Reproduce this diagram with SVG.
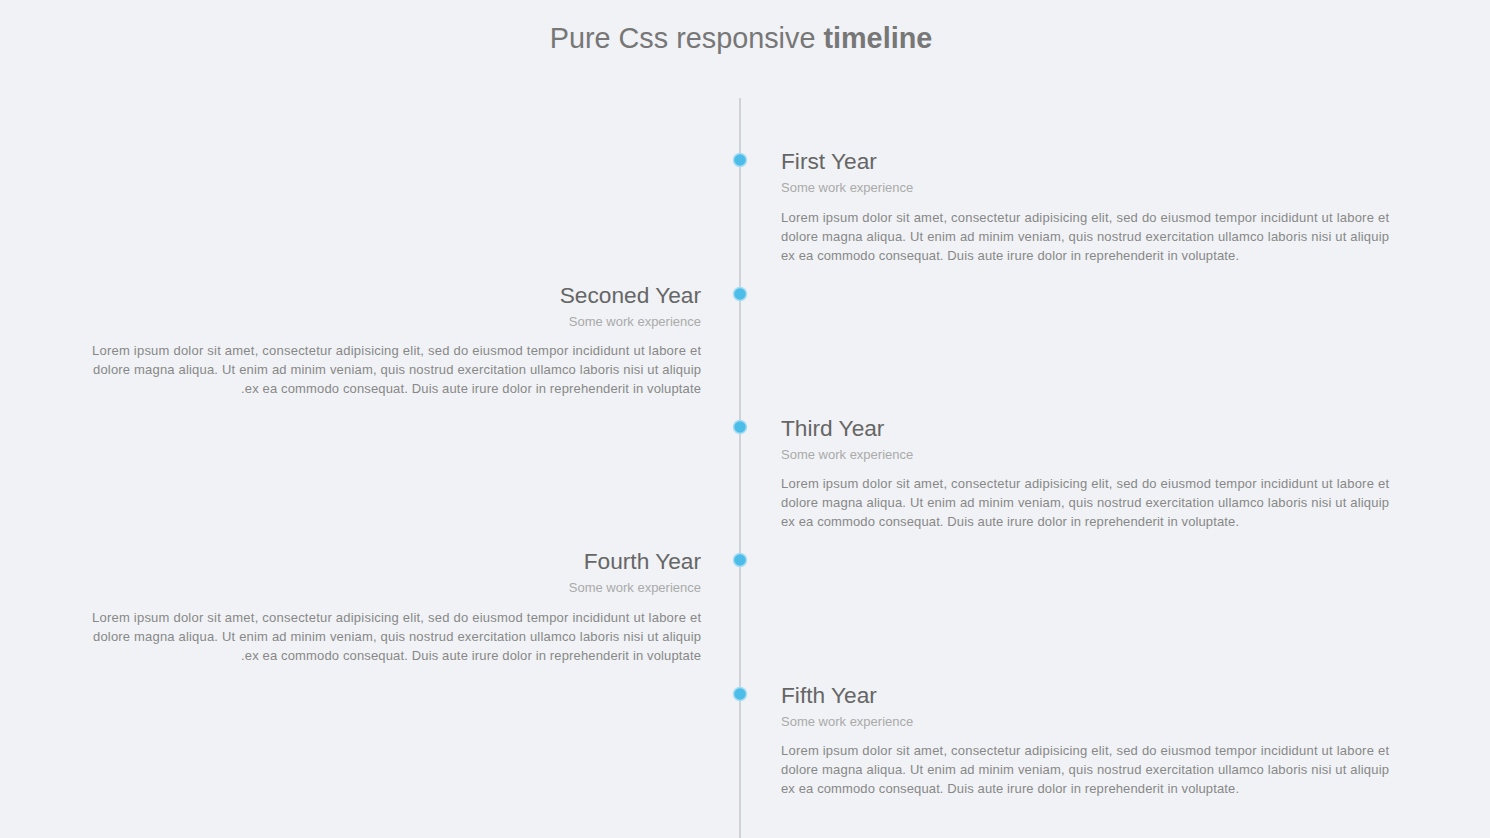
<svg xmlns="http://www.w3.org/2000/svg" width="1490" height="838" viewBox="0 0 1490 838">
<style>
text{font-family:"Liberation Sans",Arial,sans-serif}
.title{font-size:28.8px;fill:#777}
.h{font-size:22.7px;fill:#666}
.s{font-size:13px;fill:#aaa}
.b{font-size:13px;fill:#888}
.r{text-anchor:end}
.dot{fill:#4bbde8;stroke:#a9dcf2;stroke-width:1.5}
</style>
<rect width="1490" height="838" fill="#f0f2f5"/>
<text class="title" x="741" y="48" text-anchor="middle">Pure Css responsive <tspan font-weight="bold">timeline</tspan></text>
<g id="connectors">
<line x1="740" y1="98" x2="740" y2="838" stroke="#cfd2d6" stroke-width="2"/>
</g>
<g id="item1">
<circle class="dot" cx="740" cy="160" r="6.5"/>
<text class="h" x="781" y="169">First Year</text>
<text class="s" x="781" y="192">Some work experience</text>
<text class="b" x="781" y="222" textLength="608" lengthAdjust="spacing">Lorem ipsum dolor sit amet, consectetur adipisicing elit, sed do eiusmod tempor incididunt ut labore et</text>
<text class="b" x="781" y="241" textLength="608" lengthAdjust="spacing">dolore magna aliqua. Ut enim ad minim veniam, quis nostrud exercitation ullamco laboris nisi ut aliquip</text>
<text class="b" x="781" y="260" textLength="458" lengthAdjust="spacing">ex ea commodo consequat. Duis aute irure dolor in reprehenderit in voluptate.</text>
</g>
<g id="item2">
<circle class="dot" cx="740" cy="294" r="6.5"/>
<text class="h r" x="701" y="303">Seconed Year</text>
<text class="s r" x="701" y="326">Some work experience</text>
<text class="b" x="92" y="355" textLength="609" lengthAdjust="spacing">Lorem ipsum dolor sit amet, consectetur adipisicing elit, sed do eiusmod tempor incididunt ut labore et</text>
<text class="b" x="93" y="374" textLength="608" lengthAdjust="spacing">dolore magna aliqua. Ut enim ad minim veniam, quis nostrud exercitation ullamco laboris nisi ut aliquip</text>
<text class="b" x="241" y="393" textLength="460" lengthAdjust="spacing">.ex ea commodo consequat. Duis aute irure dolor in reprehenderit in voluptate</text>
</g>
<g id="item3">
<circle class="dot" cx="740" cy="427" r="6.5"/>
<text class="h" x="781" y="436">Third Year</text>
<text class="s" x="781" y="459">Some work experience</text>
<text class="b" x="781" y="488" textLength="608" lengthAdjust="spacing">Lorem ipsum dolor sit amet, consectetur adipisicing elit, sed do eiusmod tempor incididunt ut labore et</text>
<text class="b" x="781" y="507" textLength="608" lengthAdjust="spacing">dolore magna aliqua. Ut enim ad minim veniam, quis nostrud exercitation ullamco laboris nisi ut aliquip</text>
<text class="b" x="781" y="526" textLength="458" lengthAdjust="spacing">ex ea commodo consequat. Duis aute irure dolor in reprehenderit in voluptate.</text>
</g>
<g id="item4">
<circle class="dot" cx="740" cy="560" r="6.5"/>
<text class="h r" x="701" y="569">Fourth Year</text>
<text class="s r" x="701" y="592">Some work experience</text>
<text class="b" x="92" y="622" textLength="609" lengthAdjust="spacing">Lorem ipsum dolor sit amet, consectetur adipisicing elit, sed do eiusmod tempor incididunt ut labore et</text>
<text class="b" x="93" y="641" textLength="608" lengthAdjust="spacing">dolore magna aliqua. Ut enim ad minim veniam, quis nostrud exercitation ullamco laboris nisi ut aliquip</text>
<text class="b" x="241" y="660" textLength="460" lengthAdjust="spacing">.ex ea commodo consequat. Duis aute irure dolor in reprehenderit in voluptate</text>
</g>
<g id="item5">
<circle class="dot" cx="740" cy="694" r="6.5"/>
<text class="h" x="781" y="703">Fifth Year</text>
<text class="s" x="781" y="726">Some work experience</text>
<text class="b" x="781" y="755" textLength="608" lengthAdjust="spacing">Lorem ipsum dolor sit amet, consectetur adipisicing elit, sed do eiusmod tempor incididunt ut labore et</text>
<text class="b" x="781" y="774" textLength="608" lengthAdjust="spacing">dolore magna aliqua. Ut enim ad minim veniam, quis nostrud exercitation ullamco laboris nisi ut aliquip</text>
<text class="b" x="781" y="793" textLength="458" lengthAdjust="spacing">ex ea commodo consequat. Duis aute irure dolor in reprehenderit in voluptate.</text>
</g>
</svg>
